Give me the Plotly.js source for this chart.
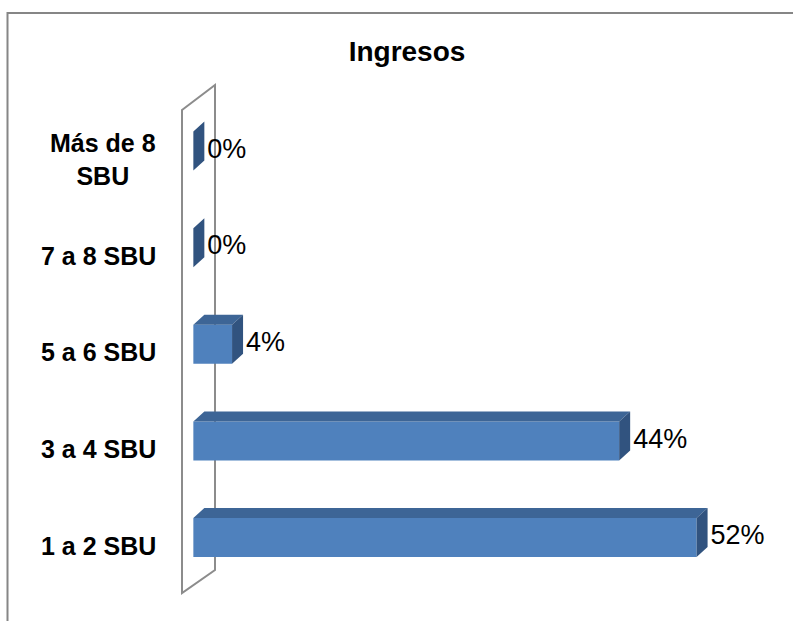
<!DOCTYPE html>
<html>
<head>
<meta charset="utf-8">
<script src="https://cdn.plot.ly/plotly-3.0.1.min.js"></script>
<style>html,body{margin:0;padding:0;background:#fff;}#chart{width:793px;height:621px;}</style>
</head>
<body>
<div id="chart"></div>
<script>
// ---- data ----
const categories = ['1 a 2 SBU', '3 a 4 SBU', '5 a 6 SBU', '7 a 8 SBU', 'Más de 8<br>SBU'];
const values = [52, 44, 4, 0, 0];
const valueLabels = ['52%', '44%', '4%', '0%', '0%'];
const chartTitle = 'Ingresos';

// ---- layout geometry ----
const W = 793, H = 621;
const M = {l: 174, r: 19, t: 80, b: 21};
const plotW = W - M.l - M.r, plotH = H - M.t - M.b;
const xRange = [-2, 60];
const pxPerX = plotW / (xRange[1] - xRange[0]);
const pxPerY = 96.6;
const y0px = 537.5;
const yRange = [(y0px - (M.t + plotH)) / pxPerY, (y0px - M.t) / pxPerY];
const pxToX = px => xRange[0] + (px - M.l) / pxPerX;
const pyToY = py => (y0px - py) / pxPerY;
const pxToPaperX = px => (px - M.l) / plotW;
const pyToPaperY = py => (M.t + plotH - py) / plotH;

const depthX = 11 / pxPerX, depthY = 10 / pxPerY;
const half = 19.5 / pxPerY;
const labelGap = 3 / pxPerX;

const pos = categories.map((c, i) => i);

// top and side faces built from the values
const topX = [], topY = [], sideX = [], sideY = [];
values.forEach((v, i) => {
  const y = pos[i];
  topX.push(0, v, v + depthX, depthX, 0, null);
  topY.push(y + half, y + half, y + half + depthY, y + half + depthY, y + half, null);
  sideX.push(v, v, v + depthX, v + depthX, v, null);
  sideY.push(y - half, y + half, y + half + depthY, y - half + depthY, y - half, null);
});

const traces = [
  {
    type: 'bar', orientation: 'h', x: values, y: pos, width: 2 * half, base: 0,
    marker: {color: '#4F81BD', line: {width: 0}}, hoverinfo: 'skip', showlegend: false
  },
  {
    type: 'scatter', mode: 'lines', x: topX, y: topY, fill: 'toself', fillcolor: '#3D6596',
    line: {width: 0, color: 'rgba(0,0,0,0)'}, hoverinfo: 'skip', showlegend: false
  },
  {
    type: 'scatter', mode: 'lines', x: sideX, y: sideY, fill: 'toself', fillcolor: '#31537F',
    line: {width: 0, color: 'rgba(0,0,0,0)'}, hoverinfo: 'skip', showlegend: false
  },
  {
    type: 'scatter', mode: 'text', x: values.map(v => v + depthX + labelGap), y: pos,
    text: valueLabels, textposition: 'middle right', cliponaxis: false,
    textfont: {family: 'Liberation Sans, Arial, sans-serif', size: 27, color: '#000'},
    hoverinfo: 'skip', showlegend: false
  }
];

const wallL = pxToX(182), wallR = pxToX(215);
const wallPath = `M ${wallL} ${pyToY(110)} L ${wallR} ${pyToY(85)} L ${wallR} ${pyToY(570)} L ${wallL} ${pyToY(593)} Z`;
const borderPath = `M ${pxToPaperX(7.5)} ${pyToPaperY(640)} L ${pxToPaperX(7.5)} ${pyToPaperY(13)} L ${pxToPaperX(820)} ${pyToPaperY(13)}`;

const layout = {
  width: W, height: H,
  margin: M,
  paper_bgcolor: '#fff', plot_bgcolor: 'rgba(0,0,0,0)',
  title: {
    text: '<b>' + chartTitle + '</b>',
    font: {family: 'Liberation Sans, Arial, sans-serif', size: 28, color: '#000'},
    xref: 'container', yref: 'container', x: 407 / W, y: 1 - 51 / H,
    xanchor: 'center', yanchor: 'middle'
  },
  xaxis: {range: xRange, visible: false, fixedrange: true},
  yaxis: {range: yRange, showticklabels: false, showgrid: false, zeroline: false,
          showline: false, ticks: '', fixedrange: true,
          tickvals: pos, ticktext: categories},
  shapes: [
    {type: 'path', xref: 'x', yref: 'y', path: wallPath, layer: 'below',
     line: {color: '#8C8C8C', width: 2}, fillcolor: 'rgba(0,0,0,0)'},
    {type: 'path', xref: 'paper', yref: 'paper', path: borderPath, layer: 'below',
     line: {color: '#868686', width: 2}}
  ],
  annotations: categories.map((c, i) => ({
    xref: 'paper', yref: 'y', x: pxToPaperX(158), y: pos[i], yshift: -8,
    xanchor: 'right', yanchor: 'middle', align: 'center', showarrow: false,
    text: '<b>' + c + '</b>',
    font: {family: 'Liberation Sans, Arial, sans-serif', size: 25, color: '#000'}
  })),
  showlegend: false
};

Plotly.newPlot('chart', traces, layout, {displayModeBar: false, staticPlot: true});
</script>
</body>
</html>
